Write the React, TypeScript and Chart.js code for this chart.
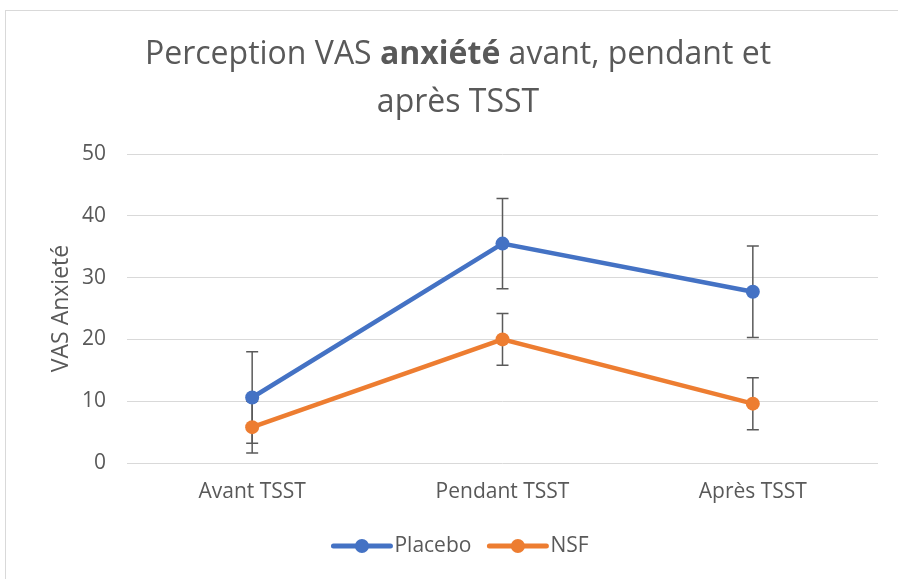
import React, { useEffect, useRef } from "react";
import { Chart, registerables } from "chart.js";

Chart.register(...registerables);

const categories = ["Avant TSST", "Pendant TSST", "Après TSST"];
const placeboValues = [10.6, 35.5, 27.7];
const placeboErrors = [7.4, 7.3, 7.4];
const nsfValues = [5.8, 20.0, 9.6];
const nsfErrors = [4.2, 4.2, 4.2];
const seriesNames = ["Placebo", "NSF"];
const yTicks = [0, 10, 20, 30, 40, 50];
const titleLine1 = ["Perception VAS ", "anxiété", " avant, pendant et"];
const titleLine2 = "après TSST";
const yAxisTitle = "VAS Anxieté";

const BLUE = "#4472C4";
const ORANGE = "#ED7D31";
const TEXT = "#595959";
const FONT = "'Open Sans', Lato, sans-serif";

const errorBarPlugin = {
  id: "errorBars",
  beforeDatasetsDraw(chart: any) {
    const ctx = chart.ctx;
    const errs = [placeboErrors, nsfErrors];
    const yScale = chart.scales.y;
    ctx.save();
    ctx.strokeStyle = "#5a5a5a";
    ctx.lineWidth = 1.5;
    chart.data.datasets.forEach((ds: any, di: number) => {
      const meta = chart.getDatasetMeta(di);
      meta.data.forEach((pt: any, i: number) => {
        const v = ds.data[i];
        const e = errs[di][i];
        const x = pt.x;
        const yTop = yScale.getPixelForValue(v + e);
        const yBot = yScale.getPixelForValue(v - e);
        ctx.beginPath();
        ctx.moveTo(x, yTop);
        ctx.lineTo(x, yBot);
        ctx.moveTo(x - 6, yTop);
        ctx.lineTo(x + 6, yTop);
        ctx.moveTo(x - 6, yBot);
        ctx.lineTo(x + 6, yBot);
        ctx.stroke();
      });
    });
    ctx.restore();
  },
};

const titleLegendPlugin = {
  id: "titleLegend",
  afterDraw(chart: any) {
    const ctx = chart.ctx;
    ctx.save();
    ctx.fillStyle = TEXT;
    ctx.textBaseline = "alphabetic";
    const size = 32;
    const normal = `${size}px ${FONT}`;
    const bold = `bold ${size}px ${FONT}`;
    const fonts = [normal, bold, normal];
    let total = 0;
    const widths = titleLine1.map((t, i) => {
      ctx.font = fonts[i];
      const w = ctx.measureText(t).width;
      total += w;
      return w;
    });
    const cx = 458;
    let x = cx - total / 2;
    titleLine1.forEach((t, i) => {
      ctx.font = fonts[i];
      ctx.textAlign = "left";
      ctx.fillText(t, x, 64);
      x += widths[i];
    });
    ctx.font = normal;
    ctx.textAlign = "center";
    ctx.fillText(titleLine2, cx, 112);

    // legend
    ctx.font = `21px ${FONT}`;
    const colors = [BLUE, ORANGE];
    const lineLen = 57;
    const gapText = 4;
    const gapItems = 18;
    const itemWidths = seriesNames.map((n) => lineLen + gapText + ctx.measureText(n).width);
    const legendTotal = itemWidths.reduce((a, b) => a + b, 0) + gapItems;
    let lx = 461 - legendTotal / 2;
    const ly = 546;
    seriesNames.forEach((n, i) => {
      ctx.strokeStyle = colors[i];
      ctx.lineWidth = 5;
      ctx.lineCap = "round";
      ctx.beginPath();
      ctx.moveTo(lx, ly);
      ctx.lineTo(lx + lineLen, ly);
      ctx.stroke();
      ctx.fillStyle = colors[i];
      ctx.beginPath();
      ctx.arc(lx + lineLen / 2, ly, 7, 0, Math.PI * 2);
      ctx.fill();
      ctx.fillStyle = TEXT;
      ctx.textAlign = "left";
      ctx.textBaseline = "middle";
      ctx.fillText(n, lx + lineLen + gapText, ly);
      lx += itemWidths[i] + gapItems;
    });
    ctx.restore();
  },
};

export default function App() {
  const ref = useRef<HTMLCanvasElement>(null);
  useEffect(() => {
    if (!ref.current) return;
    const chart = new Chart(ref.current, {
      type: "line",
      data: {
        labels: categories,
        datasets: [
          {
            label: seriesNames[0],
            data: placeboValues,
            borderColor: BLUE,
            backgroundColor: BLUE,
            borderWidth: 4.5,
            pointRadius: 7,
            pointBorderWidth: 0,
            pointBackgroundColor: BLUE,
            tension: 0,
          },
          {
            label: seriesNames[1],
            data: nsfValues,
            borderColor: ORANGE,
            backgroundColor: ORANGE,
            borderWidth: 4.5,
            pointRadius: 7,
            pointBorderWidth: 0,
            pointBackgroundColor: ORANGE,
            tension: 0,
          },
        ],
      },
      options: {
        animation: false,
        responsive: false,
        maintainAspectRatio: false,
        layout: { padding: { left: 0, right: 20, top: 154, bottom: 0 } },
        plugins: {
          legend: { display: false },
          title: { display: false },
          tooltip: { enabled: false },
        },
        scales: {
          x: {
            type: "category",
            offset: true,
            grid: { display: false, drawTicks: false },
            border: { display: false },
            ticks: { color: TEXT, font: { family: FONT, size: 21 }, padding: 16 },
            afterFit: (s: any) => {
              s.height = 116;
            },
          },
          y: {
            min: 0,
            max: 50,
            afterBuildTicks: (s: any) => {
              s.ticks = yTicks.map((v) => ({ value: v }));
            },
            grid: { color: "#d9d9d9", lineWidth: 1, drawTicks: false },
            border: { display: false },
            ticks: { color: TEXT, font: { family: FONT, size: 21 }, padding: 21 },
            title: {
              display: true,
              text: yAxisTitle,
              color: TEXT,
              font: { family: FONT, size: 23, weight: "normal" },
              padding: { top: 48, bottom: 0 },
            },
            afterFit: (s: any) => {
              s.width = 127;
            },
          },
        },
      },
      plugins: [errorBarPlugin, titleLegendPlugin],
    });
    return () => chart.destroy();
  }, []);
  return (
    <div style={{ position: "fixed", left: 0, top: 0, width: 898, height: 579, overflow: "hidden", background: "#fff" }}>
      <div
        style={{
          position: "absolute",
          left: 5,
          top: 10,
          width: 1000,
          height: 1000,
          border: "1px solid #d9d9d9",
        }}
      />
      <canvas ref={ref} width={898} height={579} style={{ position: "absolute", left: 0, top: 0, width: 898, height: 579 }} />
    </div>
  );
}
